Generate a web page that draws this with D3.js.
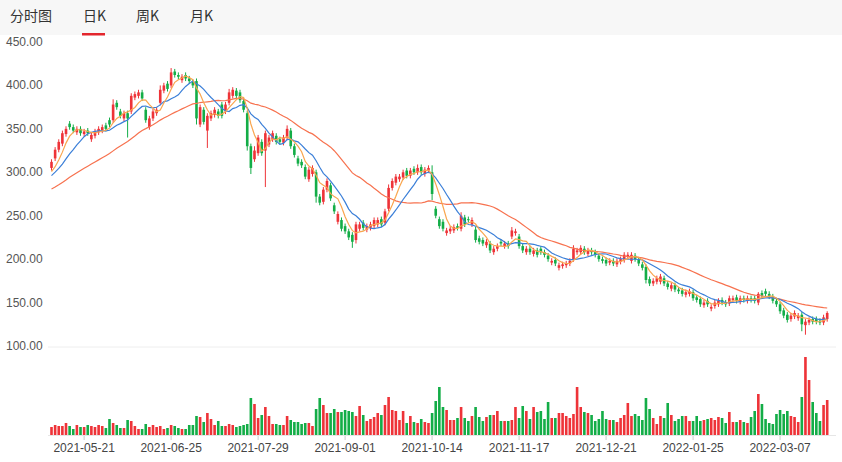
<!DOCTYPE html>
<html><head><meta charset="utf-8">
<script src="https://cdn.jsdelivr.net/npm/d3@7"></script>
<style>body{margin:0;background:#fff;font-family:"Noto Sans CJK SC","Noto Sans",sans-serif}</style>
</head><body><svg id="c" width="842" height="462"></svg>
<script>
const tabs = ["分时图","日K","周K","月K"];
const yTicks = [100,150,200,250,300,350,400,450];
const holidays = ["2021-06-14","2021-09-20","2021-09-21","2021-10-01","2021-10-04","2021-10-05","2021-10-06","2021-10-07","2022-01-03","2022-01-31","2022-02-01","2022-02-02","2022-02-03","2022-02-04"];
const startDate = "2021-05-10";
const tickLabels = ["2021-05-21","2021-06-25","2021-07-29","2021-09-01","2021-10-14","2021-11-17","2021-12-21","2022-01-25","2022-03-07"];
const priorCloses = [262,258,260,265,262,268,270,266,272,275,270,274,278,280,276,282,285,283,288,290,286,292,295,290,294,298,296,300,298];
const opens = [305,316,326,333,344,356,352,346,350,344, 348,338,342,346,348,354,360,360,380,370,
362,368,370,386,388,392,372,352,362,368, 380,394,402,400,416,412,406,412,408,404,
405,355,372,348,362,366,370,378,370,380, 388,394,392,382,368,330,315,322,335,325,
332,338,342,338,334,340,348,330,316,312, 306,292,298,300,272,266,280,285,262,243,
245,238,232,228,222,235,242,234,236,238, 240,246,242,258,282,288,292,294,302,296,
304,300,306,298,302,300,258,246,243,230, 232,233,238,235,248,246,240,234,224,222,
216,218,208,212,220,215,218,226,230,226, 215,208,212,206,210,212,208,204,196,199,
190,192,193,195,200,208,208,212,206,210, 208,204,200,199,196,198,194,197,199,203,
198,204,199,194,191,177,172,174,174,178, 172,166,170,165,164,159,160,162,156,154,
147,152,143,146,148,153,150,149,153,156, 151,155,152,155,155,150,161,163,160,157,
152,148,141,136,131,134,132,136,124,127, 131,131,129,127,131];
const closes = [312,326,335,345,350,352,348,350,345,347, 345,343,347,350,352,350,355,378,375,365,
368,362,388,390,392,385,360,362,370,372, 395,400,396,415,412,410,410,408,405,400,
362,375,358,365,368,372,365,365,378,392, 395,388,383,372,330,305,325,340,322,345,
340,345,335,335,340,350,330,320,310,308, 295,303,305,272,265,280,290,270,255,252,
235,232,225,220,240,240,236,238,240,245, 245,240,255,282,290,295,295,300,296,302,
300,305,300,303,305,275,250,238,235,233, 235,237,236,250,240,245,245,222,220,218,
220,210,212,215,218,218,215,233,232,215, 210,212,208,210,205,208,205,200,198,195,
193,194,195,198,212,210,213,208,210,208, 205,200,198,195,198,195,198,200,205,205,
205,200,195,190,176,172,175,178,180,172, 168,170,165,163,160,162,163,155,153,148,
150,148,145,150,152,150,148,155,155,152, 155,153,155,153,152,160,158,160,157,152,
148,140,135,130,135,138,135,125,128,130, 128,128,127,133,138];
const highExtra = {17:384,30:400,33:420,43:368,49:396,56:330,65:354,93:286,101:309,105:308,113:254,127:237,144:216,158:208,195:162,214:140};
const lowExtra = {21:340,40:355,43:328,54:325,55:298,59:283,73:265,83:213,84:218,105:268,117:219,164:172,207:117,208:113};
const volumes = [8,10,9,9,12,9,6,10,8,8, 10,9,8,10,9,7,16,12,10,7, 7,15,14,9,6,6,11,8,10,8,
9,6,7,10,9,7,6,6,10,10, 19,18,13,22,16,10,14,9,9,11, 10,8,9,10,11,37,31,17,20,28,
19,11,11,10,10,19,15,13,13,11, 12,12,9,26,37,30,22,22,26,23, 23,25,24,23,19,29,20,14,16,18,
22,20,30,38,25,24,15,24,12,19, 13,12,16,13,12,22,34,48,28,25, 15,15,17,28,17,14,19,28,18,14,
18,20,20,24,14,14,14,15,28,17, 29,24,16,28,23,24,16,33,17,17, 22,22,19,17,21,48,28,23,22,20,
14,16,24,16,15,15,13,17,20,32, 19,21,19,15,37,26,17,11,19,17, 32,20,14,16,19,19,14,14,19,14,
15,16,17,15,18,17,12,23,13,13, 15,13,12,18,24,41,31,16,12,11, 21,25,21,24,19,18,13,38,78,55,
33,22,14,30,35];

const fmt = d3.timeFormat("%Y-%m-%d");
const dates = [];
for (let d = new Date(startDate+"T00:00:00"); dates.length < closes.length; d.setDate(d.getDate()+1)) {
  const s = fmt(d), w = d.getDay();
  if (w!==0 && w!==6 && !holidays.includes(s)) dates.push(s);
}
const data = closes.map((c,i)=>({i, date:dates[i], o:opens[i], c,
  h: highExtra[i] ?? Math.max(opens[i],c)+3, l: lowExtra[i] ?? Math.min(opens[i],c)-3, v: volumes[i]}));
const all = priorCloses.concat(closes);
const ma = n => closes.map((_,i)=>{const k=i+priorCloses.length; return d3.mean(all.slice(Math.max(0,k-n+1),k+1));});

const svg = d3.select("#c");
const RED="#ee3338", GREEN="#13ad47";
svg.append("rect").attr("width",842).attr("height",35).attr("fill","#f7f7f7");
const tabX=[10,83,136,190];
tabs.forEach((t,k)=>svg.append("text").attr("x",tabX[k]).attr("y",21).attr("font-size",14).attr("fill","#333").text(t));
svg.append("rect").attr("x",82).attr("y",33).attr("width",23).attr("height",2.5).attr("fill","#e3262d");

const x = d3.scaleBand().domain(data.map(d=>d.i)).range([50.2,828.5]).paddingInner(0.28);
const y = d3.scaleLinear().domain([100,450]).range([346,42]);
const yv = d3.scaleLinear().domain([0,78]).range([435,357]);
const cx = i => x(i)+x.bandwidth()/2;

svg.append("g").selectAll("text").data(yTicks).join("text")
  .attr("x",6).attr("y",d=>y(d)+4).attr("font-size",12).attr("fill","#555").attr("font-family","Liberation Sans, Arial")
  .text(d=>d3.format(".2f")(d));
svg.append("line").attr("x1",48).attr("x2",836).attr("y1",y(100)+1).attr("y2",y(100)+1).attr("stroke","#eee");
svg.append("line").attr("x1",48).attr("x2",836).attr("y1",435.5).attr("y2",435.5).attr("stroke","#e6e6e6");

const col = d=>d.c>=d.o?RED:GREEN;
const g = svg.append("g");
g.selectAll("line.w").data(data).join("line").attr("x1",d=>cx(d.i)).attr("x2",d=>cx(d.i))
  .attr("y1",d=>y(d.h)).attr("y2",d=>y(d.l)).attr("stroke",col).attr("stroke-width",1);
g.selectAll("rect").data(data).join("rect").attr("x",d=>x(d.i)).attr("width",x.bandwidth())
  .attr("y",d=>y(Math.max(d.o,d.c))).attr("height",d=>Math.max(1,Math.abs(y(d.o)-y(d.c)))).attr("fill",col);

const line = d3.line().x((d,i)=>cx(i)).y(d=>y(d));
[[ma(30),"#f7724f"],[ma(10),"#3b7fd8"],[ma(5),"#f9a64f"]].forEach(([m,c])=>
  svg.append("path").attr("d",line(m)).attr("fill","none").attr("stroke",c).attr("stroke-width",1.2));

svg.append("g").selectAll("rect").data(data).join("rect").attr("x",d=>x(d.i)).attr("width",x.bandwidth())
  .attr("y",d=>yv(d.v)).attr("height",d=>435-yv(d.v)).attr("fill",col);

const tickIdx = tickLabels.map(t=>dates.indexOf(t));
const xa = svg.append("g");
xa.selectAll("line").data(tickIdx).join("line").attr("x1",cx).attr("x2",cx).attr("y1",436).attr("y2",440).attr("stroke","#ccc");
xa.selectAll("text").data(tickIdx).join("text").attr("x",cx).attr("y",452).attr("text-anchor","middle")
  .attr("font-size",12).attr("fill","#444").attr("font-family","Liberation Sans, Arial").text(i=>dates[i]);
</script></body></html>
